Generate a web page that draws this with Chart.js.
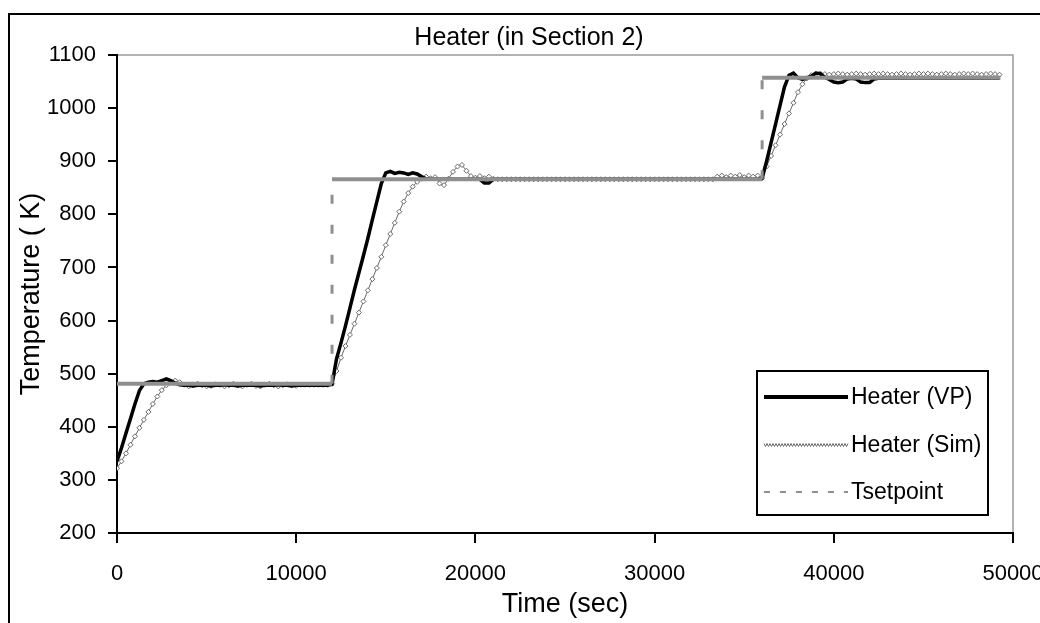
<!DOCTYPE html>
<html><head><meta charset="utf-8">
<script src="https://cdn.jsdelivr.net/npm/chart.js@4.4.0/dist/chart.umd.min.js"></script>
<style>html,body{margin:0;padding:0;background:#fff;}</style>
</head><body>
<canvas id="c" width="1040" height="623"></canvas>
<script>
const chartTitle = 'Heater (in Section 2)';
const xTitle = 'Time (sec)';
const yTitle = 'Temperature ( K)';
const seriesNames = ['Heater (VP)', 'Heater (Sim)', 'Tsetpoint'];
const xTicks = [0, 10000, 20000, 30000, 40000, 50000];
const yTicks = [200, 300, 400, 500, 600, 700, 800, 900, 1000, 1100];

const timeSec = [
 0,250,500,750,1000,1250,1500,1750,2000,2250,
 2500,2750,3000,3250,3500,3750,4000,4250,4500,4750,
 5000,5250,5500,5750,6000,6250,6500,6750,7000,7250,
 7500,7750,8000,8250,8500,8750,9000,9250,9500,9750,
 10000,10250,10500,10750,11000,11250,11500,11750,12000,12250,
 12500,12750,13000,13250,13500,13750,14000,14250,14500,14750,
 15000,15250,15500,15750,16000,16250,16500,16750,17000,17250,
 17500,17750,18000,18250,18500,18750,19000,19250,19500,19750,
 20000,20250,20500,20750,21000,21250,21500,21750,22000,22250,
 22500,22750,23000,23250,23500,23750,24000,24250,24500,24750,
 25000,25250,25500,25750,26000,26250,26500,26750,27000,27250,
 27500,27750,28000,28250,28500,28750,29000,29250,29500,29750,
 30000,30250,30500,30750,31000,31250,31500,31750,32000,32250,
 32500,32750,33000,33250,33500,33750,34000,34250,34500,34750,
 35000,35250,35500,35750,36000,36250,36500,36750,37000,37250,
 37500,37750,38000,38250,38500,38750,39000,39250,39500,39750,
 40000,40250,40500,40750,41000,41250,41500,41750,42000,42250,
 42500,42750,43000,43250,43500,43750,44000,44250,44500,44750,
 45000,45250,45500,45750,46000,46250,46500,46750,47000,47250,
 47500,47750,48000,48250,48500,48750,49000,49250
];

const heaterVP = [
 335,360,388,415,443,468,481,484,485,484,
 487,490,487,482,479,478,478,477,478,478,
 478,477,478,478,479,478,478,477,478,478,
 478,478,477,478,478,478,479,478,478,477,
 478,478,478,478,478,478,478,478,480,528,
 558,590,624,658,690,722,755,790,824,858,
 878,881,877,879,878,875,878,876,871,867,
 866,866,866,866,866,866,866,866,866,866,
 866,866,859,859,866,866,866,866,866,866,
 866,866,866,866,866,866,866,866,866,866,
 866,866,866,866,866,866,866,866,866,866,
 866,866,866,866,866,866,866,866,866,866,
 866,866,866,866,866,866,866,866,866,866,
 866,866,866,866,866,866,866,866,866,866,
 866,866,866,866,868,900,935,970,1005,1040,
 1062,1066,1057,1054,1057,1060,1066,1065,1058,1054,
 1049,1048,1049,1055,1056,1055,1049,1048,1048,1055,
 1056,1056,1056,1056,1056,1056,1056,1056,1056,1056,
 1056,1056,1056,1056,1056,1056,1056,1056,1056,1056,
 1056,1056,1056,1056,1056,1056,1056,1056
];

const heaterSim = [
 322,335,350,366,382,398,413,428,443,457,
 469,478,484,487,484,479,476,478,481,478,
 476,477,480,479,476,478,481,478,476,479,
 481,477,476,479,481,478,476,478,480,478,
 477,479,479,479,479,479,479,479,481,505,
 530,552,573,594,615,636,657,678,699,720,
 742,763,784,805,824,840,852,861,867,871,
 868,870,858,855,867,880,890,893,882,872,
 869,872,868,871,867,866,866,866,866,866,
 866,866,866,866,866,866,866,866,866,866,
 866,866,866,866,866,866,866,866,866,866,
 866,866,866,866,866,866,866,866,866,866,
 866,866,866,866,866,866,866,866,866,866,
 866,866,866,866,871,873,870,873,871,874,
 870,873,871,873,868,890,910,930,950,970,
 990,1010,1030,1045,1056,1062,1064,1065,1064,1063,
 1064,1065,1064,1063,1064,1065,1064,1063,1064,1065,
 1064,1065,1064,1063,1064,1065,1064,1063,1064,1065,
 1064,1065,1064,1063,1064,1065,1064,1063,1064,1065,
 1064,1065,1064,1063,1064,1065,1064,1063
];

const setpointTime = [0, 12000, 12000, 36000, 36000, 49300];
const setpointTemp = [481, 481, 866, 866, 1057, 1057];

const FONT = "'Liberation Sans', Arial, sans-serif";
const tickFont = { family: FONT, size: 22 };
const axisTitleFont = { family: FONT, size: 27 };
const SIM_COLOR = '#6a6a6a';
const SET_COLOR = '#8f8f8f';

const framePlugin = {
  id: 'frame',
  beforeDraw(chart) {
    const ctx = chart.ctx;
    ctx.save();
    ctx.fillStyle = '#fff';
    ctx.fillRect(0, 0, chart.width, chart.height);
    ctx.strokeStyle = '#000';
    ctx.lineWidth = 2;
    ctx.beginPath();
    ctx.moveTo(9, chart.height + 5);
    ctx.lineTo(9, 14);
    ctx.lineTo(chart.width + 5, 14);
    ctx.stroke();
    const a = chart.chartArea;
    ctx.strokeStyle = '#9a9a9a';
    ctx.lineWidth = 1.5;
    ctx.beginPath();
    ctx.moveTo(a.left, a.top);
    ctx.lineTo(a.right, a.top);
    ctx.lineTo(a.right, a.bottom);
    ctx.stroke();
    ctx.fillStyle = '#000';
    ctx.font = "25px " + FONT;
    ctx.textAlign = 'center';
    ctx.textBaseline = 'middle';
    ctx.fillText(chartTitle, 529, 38);
    ctx.restore();
  },
  afterDraw(chart) {
    const ctx = chart.ctx;
    ctx.save();
    const L = 757, T = 371, R = 988, B = 515;
    ctx.fillStyle = '#fff';
    ctx.fillRect(L, T, R - L, B - T);
    ctx.strokeStyle = '#000';
    ctx.lineWidth = 2;
    ctx.strokeRect(L, T, R - L, B - T);
    const rows = [397, 445, 492];
    const x0 = 764, x1 = 848;
    ctx.strokeStyle = '#000';
    ctx.lineWidth = 4;
    ctx.beginPath(); ctx.moveTo(x0, rows[0]); ctx.lineTo(x1, rows[0]); ctx.stroke();
    ctx.strokeStyle = SIM_COLOR;
    ctx.lineWidth = 1;
    for (let x = x0; x < x1; x += 3) {
      ctx.beginPath();
      ctx.moveTo(x, rows[1] - 1.5); ctx.lineTo(x + 1.5, rows[1] + 1.5); ctx.lineTo(x + 3, rows[1] - 1.5);
      ctx.stroke();
    }
    ctx.strokeStyle = SET_COLOR;
    ctx.lineWidth = 2;
    ctx.setLineDash([6, 10]);
    ctx.beginPath(); ctx.moveTo(x0, rows[2]); ctx.lineTo(x1, rows[2]); ctx.stroke();
    ctx.setLineDash([]);
    ctx.fillStyle = '#000';
    ctx.font = "23px " + FONT;
    ctx.textAlign = 'left';
    ctx.textBaseline = 'middle';
    seriesNames.forEach((n, i) => ctx.fillText(n, 851, rows[i] + 1));
    ctx.restore();
  }
};

const toPts = (xs, ys) => xs.map((x, i) => ({ x: x, y: ys[i] }));

new Chart(document.getElementById('c'), {
  type: 'line',
  data: {
    datasets: [
      {
        label: seriesNames[2],
        data: toPts(setpointTime, setpointTemp),
        borderColor: SET_COLOR,
        borderWidth: 4,
        pointRadius: 0,
        order: 0,
        segment: {
          borderDash: ctx => (ctx.p0.parsed.x === ctx.p1.parsed.x ? [9, 21] : undefined),
          borderWidth: ctx => (ctx.p0.parsed.x === ctx.p1.parsed.x ? 3 : undefined)
        }
      },
      {
        label: seriesNames[0],
        data: toPts(timeSec, heaterVP),
        borderColor: '#000',
        borderWidth: 3.5,
        pointRadius: 0,
        order: 1
      },
      {
        label: seriesNames[1],
        data: toPts(timeSec, heaterSim),
        borderColor: SIM_COLOR,
        borderWidth: 1,
        pointStyle: 'rectRot',
        pointRadius: 2.5,
        pointBorderWidth: 1,
        pointBorderColor: SIM_COLOR,
        pointBackgroundColor: '#fff',
        order: 2
      }
    ]
  },
  options: {
    responsive: false,
    animation: false,
    devicePixelRatio: 1,
    layout: { padding: { left: 9, right: 27, top: 55, bottom: 0 } },
    plugins: { legend: { display: false }, title: { display: false }, tooltip: { enabled: false } },
    scales: {
      x: {
        type: 'linear', min: 0, max: 50000,
        afterBuildTicks: s => { s.ticks = xTicks.map(v => ({ value: v })); },
        ticks: { font: tickFont, color: '#000', padding: 18, maxRotation: 0, autoSkip: false, callback: v => String(v) },
        grid: { display: true, drawOnChartArea: false, drawTicks: true, tickLength: 10, color: '#000', lineWidth: 2 },
        border: { display: true, color: '#000', width: 2 },
        title: { display: true, text: xTitle, font: axisTitleFont, color: '#000', padding: { top: 0, bottom: 2 } },
        afterFit: s => { s.height = 90; s.paddingLeft = 0; s.paddingRight = 0; }
      },
      y: {
        type: 'linear', min: 200, max: 1100,
        afterBuildTicks: s => { s.ticks = yTicks.map(v => ({ value: v })); },
        ticks: { font: tickFont, color: '#000', padding: 12, autoSkip: false, callback: v => String(v) },
        grid: { display: true, drawOnChartArea: false, drawTicks: true, tickLength: 9, color: '#000', lineWidth: 2 },
        border: { display: true, color: '#000', width: 2 },
        title: { display: true, text: yTitle, font: axisTitleFont, color: '#000', padding: { top: 6, bottom: 0 } },
        afterFit: s => { s.width = 108; s.paddingTop = 0; s.paddingBottom = 0; }
      }
    }
  },
  plugins: [framePlugin]
});
</script>
</body></html>
